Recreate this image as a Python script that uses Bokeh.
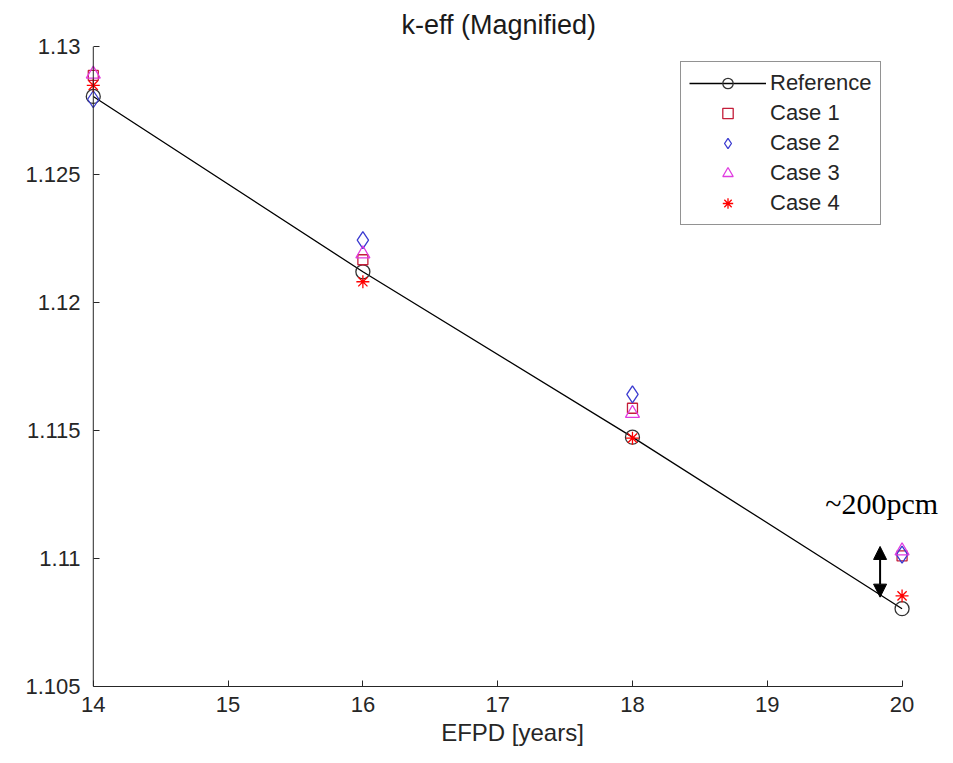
from bokeh.plotting import figure
from bokeh.models import Legend, LegendItem, Label, Arrow, NormalHead, FixedTicker, Span
from bokeh.embed import file_html
from bokeh.resources import INLINE

efpd = [14, 16, 18, 20]
reference = [1.12805, 1.12120, 1.11474, 1.10804]
case1 = [1.12887, 1.12167, 1.11587, 1.11010]
case2 = [1.12794, 1.12244, 1.11641, 1.11015]
case3 = [1.12892, 1.12190, 1.11567, 1.11030]
case4 = [1.12848, 1.12081, 1.11470, 1.10854]
x_ticks = [14, 15, 16, 17, 18, 19, 20]
y_ticks = [1.105, 1.11, 1.115, 1.12, 1.125, 1.13]
y_tick_labels = ["1.105", "1.11", "1.115", "1.12", "1.125", "1.13"]

FONT = "Liberation Sans"
AX = "#262626"

p = figure(width=950, height=760, output_backend="svg", toolbar_location=None,
           x_range=(13.92, 20.3), y_range=(1.105, 1.13),
           min_border_left=82, min_border_right=8, min_border_top=44, min_border_bottom=74,
           title="k-eff (Magnified)")
p.title.align = "left"
p.title.offset = 319
p.title.text_font = FONT
p.title.text_font_style = "normal"
p.title.text_font_size = "27px"
p.title.text_color = "#1a1a1a"
p.title.standoff = 14
p.outline_line_color = None
p.grid.visible = False
p.background_fill_color = "white"

for ax in (p.xaxis[0], p.yaxis[0]):
    ax.axis_line_color = AX
    ax.major_tick_line_color = AX
    ax.minor_tick_line_color = None
    ax.major_label_text_font = FONT
    ax.major_label_text_font_size = "22px"
    ax.major_label_text_color = AX
    ax.axis_label_text_font = FONT
    ax.axis_label_text_font_style = "normal"
    ax.axis_label_text_color = AX
p.xaxis.major_tick_in = 6
p.xaxis.major_tick_out = 0
p.xaxis.ticker = FixedTicker(ticks=x_ticks)
p.yaxis.ticker = FixedTicker(ticks=y_ticks)
p.xaxis.bounds = (x_ticks[0], x_ticks[-1])
# y axis sits at the frame edge; line and inward ticks shifted to x = 14
p.yaxis.axis_line_color = None
p.yaxis.major_tick_in = 17
p.yaxis.major_tick_out = -11
p.yaxis.major_label_overrides = {t: s for t, s in zip(y_ticks, y_tick_labels)}
p.yaxis.major_label_standoff = 2
p.xaxis.major_label_standoff = 10
p.xaxis.axis_label = "EFPD [years]"
p.xaxis.axis_label_text_font_size = "24px"
p.xaxis.axis_label_standoff = 4
p.add_layout(Span(location=x_ticks[0], dimension="height", line_color=AX, line_width=1))

ref_line = p.line(efpd, reference, line_color="#000000", line_width=1.3)
ref_mk = p.scatter(efpd, reference, marker="circle", size=14, fill_color=None,
                   line_color="#333333", line_width=1.3)
c1 = p.scatter(efpd, case1, marker="square", size=10, fill_color=None,
               line_color="#c41e3a", line_width=1.3)
c2 = p.scatter(efpd, case2, marker="diamond", size=17, fill_color=None,
               line_color="#3b3bd0", line_width=1.3)
c3 = p.scatter(efpd, case3, marker="triangle", size=14, fill_color=None,
               line_color="#e03ce0", line_width=1.3)
c4 = p.scatter(efpd, case4, marker="asterisk", size=13, fill_color=None,
               line_color="#ff0000", line_width=1.3)

legend = Legend(items=[
    LegendItem(label="Reference", renderers=[ref_line, ref_mk]),
    LegendItem(label="Case 1", renderers=[c1]),
    LegendItem(label="Case 2", renderers=[c2]),
    LegendItem(label="Case 3", renderers=[c3]),
    LegendItem(label="Case 4", renderers=[c4]),
], location=(598, 461))
legend.label_text_font = FONT
legend.label_text_font_size = "22px"
legend.label_text_color = AX
legend.glyph_width = 77
legend.glyph_height = 26
legend.spacing = 4
legend.padding = 8
legend.margin = 0
legend.label_standoff = 4
legend.border_line_color = AX
legend.border_line_width = 1
legend.background_fill_alpha = 1
p.add_layout(legend, "center")

arrow = Arrow(x_start=19.837, y_start=1.10849, x_end=19.837, y_end=1.11047,
              start=NormalHead(size=13, fill_color="black", line_color="black"),
              end=NormalHead(size=13, fill_color="black", line_color="black"),
              line_width=2, line_color="black")
p.add_layout(arrow)
note = Label(x=19.43, y=1.1115, text="~200pcm", text_font="Liberation Serif",
             text_font_size="30px", text_color="black")
p.add_layout(note)

open("out.html", "w").write(file_html(p, INLINE))
